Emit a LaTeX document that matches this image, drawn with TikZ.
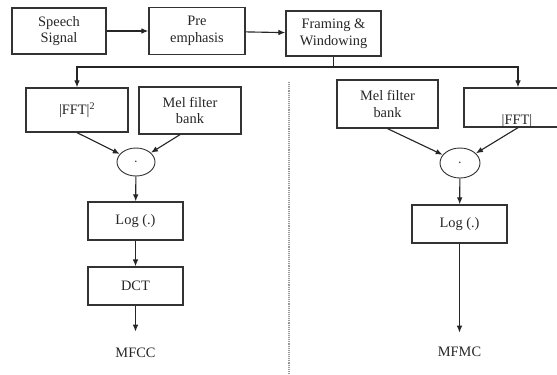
\documentclass[tikz,border=0pt]{standalone}
\usepackage{fontspec}
\setmainfont{Liberation Serif}
\usepackage{tikz}
\usetikzlibrary{arrows}
\usetikzlibrary{arrows.meta}
\usetikzlibrary{shapes.geometric}
\usetikzlibrary{positioning}

\begin{document}
\begin{tikzpicture}[x=0.05cm, y=-0.05cm, >={Latex[length=10pt, width=8pt]},
    every node/.style={font=\fontsize{20.5}{24}\selectfont, text=black!85},
    block/.style={draw=black!80, line width=1.8pt, align=center, inner sep=0pt},
    mult/.style={draw=black!80, line width=1.3pt, ellipse, inner sep=0pt},
    flow/.style={->, draw=black!85, line width=1.6pt}]
    \clip (0, 0) rectangle (557, 374);

    \node [block, minimum width=4.7cm, minimum height=2.3cm] (speech) at (59, 31) {Speech\\Signal};
    \node [block, minimum width=4.8cm, minimum height=2.35cm] (preemph) at (197, 31) {Pre\\emphasis};
    \node [block, minimum width=4.75cm, minimum height=2.25cm] (framing) at (333.5, 33.5) {Framing \&\\Windowing};
    \coordinate (split) at (333.5, 67);

    \node [block, minimum width=5.1cm, minimum height=2.2cm] (fftsq) at (77, 110) {|FFT|\textsuperscript{2}};
    \node [block, minimum width=5.1cm, minimum height=2.35cm] (melleft) at (190, 110.5) {Mel filter\\bank};
    \node [mult, minimum width=1.9cm, minimum height=1.4cm] (multleft) at (136, 162) {$\cdot$};
    \node [block, minimum width=4.75cm, minimum height=1.9cm] (logleft) at (135.5, 221) {Log (.)};
    \node [block, minimum width=4.75cm, minimum height=1.9cm] (dct) at (135.5, 286) {DCT};
    \node (mfcc) at (135.5, 353) {MFCC};

    \node [block, minimum width=5.05cm, minimum height=2.4cm] (melright) at (387.5, 104) {Mel filter\\bank};
    \node [block, minimum width=5.4cm, minimum height=1.95cm] (fftabs) at (518, 107.5) {};
    \node at (517, 121) {|FFT|};
    \node [mult, minimum width=2cm, minimum height=1.5cm] (multright) at (460, 163) {$\cdot$};
    \node [block, minimum width=4.75cm, minimum height=1.9cm] (logright) at (459.5, 224) {Log (.)};
    \node (mfmc) at (459.5, 352) {MFMC};

    \draw [flow] (speech) -- (preemph);
    \draw [flow] (preemph) -- (framing);
    \draw [flow] (framing.south) -- (split) -| (fftsq.north);
    \draw [flow] (split) -| (fftabs.north);

    \draw [flow] (fftsq.south) -- (multleft);
    \draw [flow] ([xshift=-0.5cm]melleft.south) -- (multleft);
    \draw [flow] (multleft) -- (logleft);
    \draw [flow] (logleft) -- (dct);
    \draw [flow, shorten >=0.7cm] (dct) -- (mfcc);

    \draw [flow] (melright.south) -- (multright);
    \draw [flow] (fftabs.south) -- (multright);
    \draw [flow] (multright) -- (logright);
    \draw [flow, shorten >=0.6cm] (logright) -- (mfmc);

    \draw [black!40, line width=1.6pt, dash pattern=on 1.6pt off 1.4pt] (289, 82) -- (289, 374);
  \end{tikzpicture}
\end{document}
